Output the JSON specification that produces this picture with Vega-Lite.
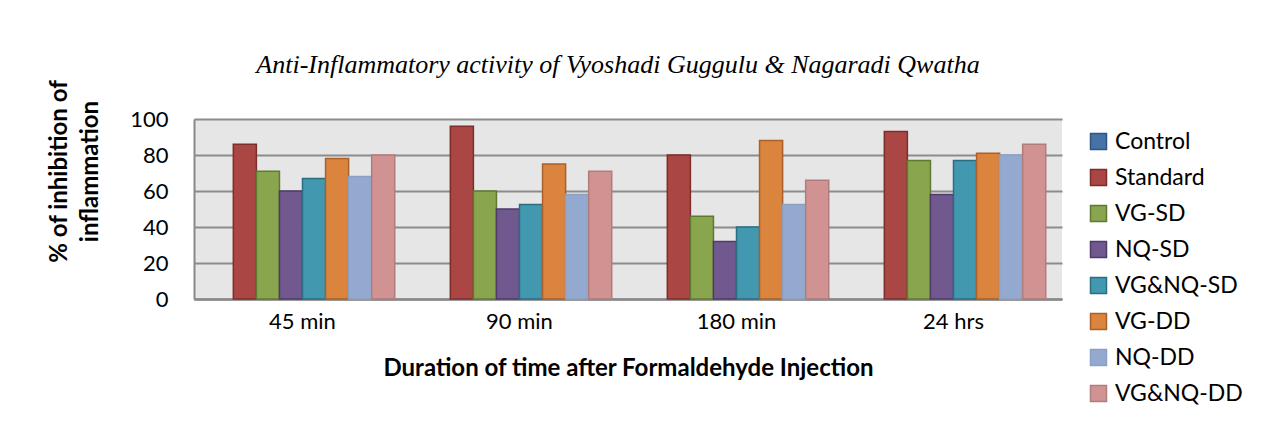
{
  "$schema": "https://vega.github.io/schema/vega-lite/v6.json",
  "width": 868,
  "height": 180,
  "autosize": {"type": "none"},
  "padding": {"left": 194, "top": 119, "right": 213, "bottom": 139},
  "background": "white",
  "title": {
    "text": "Anti-Inflammatory activity of  Vyoshadi Guggulu & Nagaradi Qwatha",
    "font": "Liberation Serif",
    "fontStyle": "italic",
    "fontWeight": "normal",
    "fontSize": 26,
    "color": "black",
    "anchor": "middle",
    "dx": -10,
    "offset": 1
  },
  "data": {
    "values": [
      {"time": "45 min", "group": "Control", "value": 0},
      {"time": "45 min", "group": "Standard", "value": 86},
      {"time": "45 min", "group": "VG-SD", "value": 71},
      {"time": "45 min", "group": "NQ-SD", "value": 60},
      {"time": "45 min", "group": "VG&NQ-SD", "value": 67},
      {"time": "45 min", "group": "VG-DD", "value": 78},
      {"time": "45 min", "group": "NQ-DD", "value": 68},
      {"time": "45 min", "group": "VG&NQ-DD", "value": 80},
      {"time": "90 min", "group": "Control", "value": 0},
      {"time": "90 min", "group": "Standard", "value": 96},
      {"time": "90 min", "group": "VG-SD", "value": 60},
      {"time": "90 min", "group": "NQ-SD", "value": 50},
      {"time": "90 min", "group": "VG&NQ-SD", "value": 52.5},
      {"time": "90 min", "group": "VG-DD", "value": 75},
      {"time": "90 min", "group": "NQ-DD", "value": 58},
      {"time": "90 min", "group": "VG&NQ-DD", "value": 71},
      {"time": "180 min", "group": "Control", "value": 0},
      {"time": "180 min", "group": "Standard", "value": 80},
      {"time": "180 min", "group": "VG-SD", "value": 46},
      {"time": "180 min", "group": "NQ-SD", "value": 32},
      {"time": "180 min", "group": "VG&NQ-SD", "value": 40},
      {"time": "180 min", "group": "VG-DD", "value": 88},
      {"time": "180 min", "group": "NQ-DD", "value": 52.5},
      {"time": "180 min", "group": "VG&NQ-DD", "value": 66},
      {"time": "24 hrs", "group": "Control", "value": 0},
      {"time": "24 hrs", "group": "Standard", "value": 93},
      {"time": "24 hrs", "group": "VG-SD", "value": 77},
      {"time": "24 hrs", "group": "NQ-SD", "value": 58},
      {"time": "24 hrs", "group": "VG&NQ-SD", "value": 77},
      {"time": "24 hrs", "group": "VG-DD", "value": 81},
      {"time": "24 hrs", "group": "NQ-DD", "value": 80},
      {"time": "24 hrs", "group": "VG&NQ-DD", "value": 86}
    ]
  },
  "mark": {"type": "bar", "strokeWidth": 1.5},
  "encoding": {
    "x": {
      "field": "time",
      "type": "nominal",
      "sort": ["45 min", "90 min", "180 min", "24 hrs"],
      "scale": {"paddingInner": 0.15, "paddingOuter": 0.075},
      "axis": {
        "title": "Duration of time after Formaldehyde Injection",
        "labelAngle": 0,
        "labelFont": "Lato",
        "labelFontSize": 22,
        "labelColor": "black",
        "labelPadding": 12,
        "ticks": false,
        "grid": false,
        "domainColor": "#888888",
        "domainWidth": 2.5,
        "titleFont": "Lato",
        "titleFontSize": 24,
        "titleFontWeight": "bold",
        "titleColor": "black",
        "titlePadding": 24
      }
    },
    "xOffset": {
      "field": "group",
      "type": "nominal",
      "sort": ["Control", "Standard", "VG-SD", "NQ-SD", "VG&NQ-SD", "VG-DD", "NQ-DD", "VG&NQ-DD"],
      "scale": {"paddingInner": 0, "paddingOuter": 0}
    },
    "y": {
      "field": "value",
      "type": "quantitative",
      "scale": {"domain": [0, 100], "nice": false},
      "axis": {
        "title": ["% of inhibition of", "inflammation"],
        "values": [0, 20, 40, 60, 80, 100],
        "labelFont": "Lato",
        "labelFontSize": 22,
        "labelColor": "black",
        "labelPadding": 26,
        "ticks": false,
        "grid": true,
        "gridColor": "#8C8C8C",
        "gridWidth": 2,
        "domainColor": "#888888",
        "domainWidth": 2,
        "titleFont": "Lato",
        "titleFontSize": 24,
        "titleFontWeight": "bold",
        "titleColor": "black",
        "titleAngle": 270,
        "titleAlign": "center",
        "titleBaseline": "top",
        "titleLineHeight": 31,
        "titleX": -147,
        "titleY": 52
      }
    },
    "fill": {
      "field": "group",
      "type": "nominal",
      "title": null,
      "scale": {
        "domain": ["Control", "Standard", "VG-SD", "NQ-SD", "VG&NQ-SD", "VG-DD", "NQ-DD", "VG&NQ-DD"],
        "range": ["#4572A7", "#AA4643", "#89A54E", "#71588F", "#4198AF", "#DB843D", "#93A9CF", "#D19392"]
      },
      "legend": {
        "orient": "none",
        "legendX": 893,
        "legendY": 11,
        "padding": 0,
        "symbolType": "square",
        "symbolSize": 256,
        "symbolStrokeWidth": 1.5,
        "labelFont": "Lato",
        "labelFontSize": 23,
        "labelColor": "black",
        "labelOffset": 5,
        "rowPadding": 12
      }
    },
    "stroke": {
      "field": "group",
      "type": "nominal",
      "title": null,
      "scale": {
        "domain": ["Control", "Standard", "VG-SD", "NQ-SD", "VG&NQ-SD", "VG-DD", "NQ-DD", "VG&NQ-DD"],
        "range": ["#2F5485", "#7D2E2C", "#5E7A30", "#4E3B68", "#2B6E82", "#A9602A", "#8DA0C4", "#B07C7C"]
      }
    },
    "strokeOpacity": {
      "condition": {"test": "datum.value == 0", "value": 0},
      "value": 1
    }
  },
  "config": {
    "view": {"fill": "#E6E6E6", "stroke": null}
  }
}
